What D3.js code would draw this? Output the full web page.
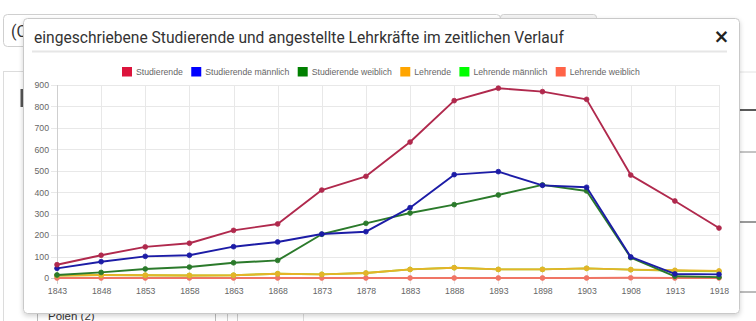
<!DOCTYPE html>
<html>
<head>
<meta charset="utf-8">
<script src="https://cdn.jsdelivr.net/npm/d3@7/dist/d3.min.js"></script>
<style>
  html, body { margin: 0; padding: 0; background: #fff; }
  svg { display: block; }
</style>
</head>
<body>
<svg id="page" width="756" height="321"></svg>
<script>
// Jahrgänge und Zahlen der Studierenden / Lehrenden
const years = ["1843","1848","1853","1858","1863","1868","1873","1878","1883","1888","1893","1898","1903","1908","1913","1918"];
const studierende        = [62,106,145,162,222,252,410,474,634,827,885,869,833,480,359,233];
const studierendeMaenn   = [45,76,101,106,146,168,205,216,328,482,496,432,423,98,19,17];
const studierendeWeib    = [14,26,42,51,71,82,204,255,303,342,387,434,406,95,8,4];
const lehrende           = [12,14,13,12,13,20,17,23,40,48,40,40,45,39,36,33];
const lehrendeMaenn      = [12,14,13,12,13,20,17,23,40,48,40,40,45,39,34,31];
const lehrendeWeib       = [0,0,0,0,0,0,0,0,0,0,0,0,0,1,0,0];
const yTicks             = [0,100,200,300,400,500,600,700,800,900];

const seriesNames  = ["Studierende","Studierende männlich","Studierende weiblich","Lehrende","Lehrende männlich","Lehrende weiblich"];
const seriesValues = [studierende, studierendeMaenn, studierendeWeib, lehrende, lehrendeMaenn, lehrendeWeib];
const legendColors = ["#dc143c","#0000ff","#008000","#ffa500","#00ff00","#ff6347"];
const lineColors   = ["#b0294d","#1c1ca6","#2b7a2b","#e5b428","#8fd42a","#f07565"];

const svg = d3.select("#page");

// --- Seite im Hintergrund ---
const bg = svg.append("g");
bg.append("rect").attr("x",3.5).attr("y",14.5).attr("width",497).attr("height",32).attr("rx",4)
  .attr("fill","#fff").attr("stroke","#cfcfcf");
bg.append("text").attr("x",11).attr("y",37).attr("font-family","Roboto, sans-serif").attr("font-size",16)
  .attr("fill","#333").text("(C");
bg.append("rect").attr("x",500.5).attr("y",14.5).attr("width",96).attr("height",32).attr("rx",3)
  .attr("fill","#f3f3f3").attr("stroke","#cfcfcf");
bg.append("rect").attr("x",3.5).attr("y",71.5).attr("width",300).attr("height",260)
  .attr("fill","#fff").attr("stroke","#dcdcdc");
bg.append("rect").attr("x",20.5).attr("y",89).attr("width",2.5).attr("height",18).attr("fill","#555");
bg.append("rect").attr("x",37.5).attr("y",300.5).attr("width",178).attr("height",30)
  .attr("fill","#fff").attr("stroke","#bbb");
bg.append("rect").attr("x",227.5).attr("y",300.5).attr("width",10).attr("height",30)
  .attr("fill","#fff").attr("stroke","#ccc");
bg.append("text").attr("x",48).attr("y",320).attr("font-family","Liberation Sans, Arial, sans-serif")
  .attr("font-size",11.5).attr("fill","#333").text("Polen (2)");
[[72,"#e2e2e2",1],[110,"#222",1.5],[152,"#888",1],[222,"#555",1.2],[292,"#777",1]].forEach(([yy,c,w]) => {
  bg.append("line").attr("x1",738).attr("x2",756).attr("y1",yy).attr("y2",yy)
    .attr("stroke",c).attr("stroke-width",w);
});

// --- Dialogfenster ---
const defs = svg.append("defs");
const f = defs.append("filter").attr("id","shadow").attr("x","-5%").attr("y","-5%").attr("width","110%").attr("height","115%");
f.append("feDropShadow").attr("dx",0).attr("dy",2).attr("stdDeviation",2.5).attr("flood-color","#000").attr("flood-opacity",0.18);

svg.append("rect").attr("x",23.5).attr("y",18.5).attr("width",716).attr("height",295).attr("rx",4)
  .attr("fill","#fff").attr("stroke","#c9c9c9").attr("filter","url(#shadow)");

svg.append("text").attr("x",34).attr("y",43).attr("font-family","Roboto, sans-serif").attr("font-size",15.6)
  .attr("fill","#333").text("eingeschriebene Studierende und angestellte Lehrkräfte im zeitlichen Verlauf");
svg.append("text").attr("x",721.5).attr("y",43).attr("text-anchor","middle")
  .attr("font-family","DejaVu Sans, sans-serif").attr("font-weight","bold").attr("font-size",19)
  .attr("fill","#222").text("×");
svg.append("line").attr("x1",32).attr("x2",727).attr("y1",51.5).attr("y2",51.5)
  .attr("stroke","#e6e6e6").attr("stroke-width",2);

// --- Diagramm ---
const font = "Liberation Sans, Arial, Helvetica, sans-serif";
const x = d3.scalePoint().domain(years).range([57, 719]);
const y = d3.scaleLinear().domain([0, 900]).range([278, 85]);

const chart = svg.append("g");

// Gitterlinien
chart.append("g").selectAll("line").data(yTicks).join("line")
  .attr("x1",51).attr("x2",719).attr("y1",d => Math.round(y(d))+0.5).attr("y2",d => Math.round(y(d))+0.5)
  .attr("stroke", d => d === 0 ? "#cfcfcf" : "#e8e8e8");
chart.append("g").selectAll("line").data(years).join("line")
  .attr("x1",d => Math.round(x(d))+0.5).attr("x2",d => Math.round(x(d))+0.5)
  .attr("y1",85).attr("y2",284)
  .attr("stroke", (d,i) => i === 0 ? "#cfcfcf" : "#e8e8e8");

// Achsen
const yAxis = d3.axisLeft(y).tickValues(yTicks).tickSize(0).tickPadding(0);
chart.append("g").attr("transform","translate(49,0)").call(yAxis)
  .call(g => g.select(".domain").remove())
  .call(g => g.selectAll("text").attr("font-family",font).attr("font-size",8.7).attr("fill","#666"));

const xAxis = d3.axisBottom(x).tickSize(0).tickPadding(0);
chart.append("g").attr("transform","translate(0,288)").call(xAxis)
  .call(g => g.select(".domain").remove())
  .call(g => g.selectAll("text").attr("font-family",font).attr("font-size",8.7).attr("fill","#666"));

// Linien, erste Reihe zuoberst
const line = d3.line().x((d,i) => x(years[i])).y(d => y(d));
const order = d3.range(seriesValues.length).reverse();
order.forEach(k => {
  const g = chart.append("g");
  g.append("path").datum(seriesValues[k]).attr("d", line)
    .attr("fill","none").attr("stroke", lineColors[k]).attr("stroke-width",1.9)
    .attr("stroke-linejoin","round");
  g.selectAll("circle").data(seriesValues[k]).join("circle")
    .attr("cx",(d,i) => x(years[i])).attr("cy", d => y(d)).attr("r",2.4)
    .attr("fill", lineColors[k]).attr("stroke", lineColors[k]).attr("stroke-width",0.8);
});

// Legende
const legend = chart.append("g").attr("transform","translate(0,72)");
let lx = 122;
seriesNames.forEach((name, k) => {
  const item = legend.append("g").attr("transform",`translate(${lx},0)`);
  item.append("rect").attr("x",0).attr("y",-5).attr("width",10).attr("height",9.5)
    .attr("fill", legendColors[k]);
  const t = item.append("text").attr("x",14).attr("y",3.2).attr("font-family",font)
    .attr("font-size",8.7).attr("fill","#666").text(name);
  lx += 14 + t.node().getComputedTextLength() + 8.4;
});
</script>
</body>
</html>
